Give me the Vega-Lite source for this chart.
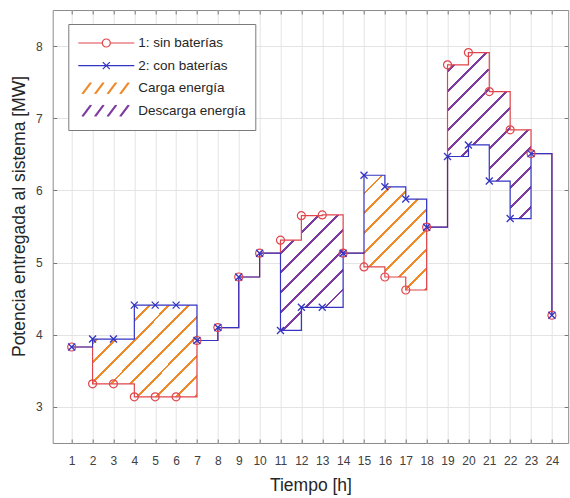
{
  "$schema": "https://vega.github.io/schema/vega-lite/v6.json",
  "width": 515.5,
  "height": 433,
  "autosize": {"type": "none"},
  "padding": {"left": 52.7, "top": 10, "right": 1.8, "bottom": 55},
  "background": "white",
  "config": {
    "view": {"stroke": "#8c8c8c", "strokeWidth": 1},
    "font": "Liberation Sans"
  },
  "data": {
    "values": [
      {"hora": 1, "sin": 3.83, "con": 3.83},
      {"hora": 2, "sin": 3.32, "con": 3.94},
      {"hora": 3, "sin": 3.32, "con": 3.94},
      {"hora": 4, "sin": 3.14, "con": 4.41},
      {"hora": 5, "sin": 3.14, "con": 4.41},
      {"hora": 6, "sin": 3.14, "con": 4.41},
      {"hora": 7, "sin": 3.92, "con": 3.92},
      {"hora": 8, "sin": 4.10, "con": 4.10},
      {"hora": 9, "sin": 4.80, "con": 4.80},
      {"hora": 10, "sin": 5.13, "con": 5.13},
      {"hora": 11, "sin": 5.31, "con": 4.06},
      {"hora": 12, "sin": 5.65, "con": 4.38},
      {"hora": 13, "sin": 5.66, "con": 4.38},
      {"hora": 14, "sin": 5.13, "con": 5.13},
      {"hora": 15, "sin": 4.94, "con": 6.21},
      {"hora": 16, "sin": 4.80, "con": 6.05},
      {"hora": 17, "sin": 4.62, "con": 5.88},
      {"hora": 18, "sin": 5.49, "con": 5.49},
      {"hora": 19, "sin": 7.74, "con": 6.47},
      {"hora": 20, "sin": 7.91, "con": 6.63},
      {"hora": 21, "sin": 7.37, "con": 6.13},
      {"hora": 22, "sin": 6.84, "con": 5.61},
      {"hora": 23, "sin": 6.51, "con": 6.51},
      {"hora": 24, "sin": 4.27, "con": 4.27}
    ]
  },
  "resolve": {"axis": {"x": "independent", "y": "independent"}},
  "layer": [
    {
      "transform": [{"filter": {"field": "hora", "range": [2, 7]}}],
      "mark": {
        "type": "area", "interpolate": "step-after", "opacity": 1, "fillOpacity": 1,
        "fill": {
          "gradient": "linear", "x1": 0, "y1": 0, "x2": 1.064, "y2": 0.9265,
          "stops": [
            {"offset": 0, "color": "#ffffff"}, {"offset": 0.085, "color": "#ffffff"}, {"offset": 0.085, "color": "#ee8a2a"}, {"offset": 0.1, "color": "#ee8a2a"},
            {"offset": 0.1, "color": "#ffffff"}, {"offset": 0.185, "color": "#ffffff"}, {"offset": 0.185, "color": "#ee8a2a"}, {"offset": 0.2, "color": "#ee8a2a"},
            {"offset": 0.2, "color": "#ffffff"}, {"offset": 0.285, "color": "#ffffff"}, {"offset": 0.285, "color": "#ee8a2a"}, {"offset": 0.3, "color": "#ee8a2a"},
            {"offset": 0.3, "color": "#ffffff"}, {"offset": 0.385, "color": "#ffffff"}, {"offset": 0.385, "color": "#ee8a2a"}, {"offset": 0.4, "color": "#ee8a2a"},
            {"offset": 0.4, "color": "#ffffff"}, {"offset": 0.485, "color": "#ffffff"}, {"offset": 0.485, "color": "#ee8a2a"}, {"offset": 0.5, "color": "#ee8a2a"},
            {"offset": 0.5, "color": "#ffffff"}, {"offset": 0.585, "color": "#ffffff"}, {"offset": 0.585, "color": "#ee8a2a"}, {"offset": 0.6, "color": "#ee8a2a"},
            {"offset": 0.6, "color": "#ffffff"}, {"offset": 0.685, "color": "#ffffff"}, {"offset": 0.685, "color": "#ee8a2a"}, {"offset": 0.7, "color": "#ee8a2a"},
            {"offset": 0.7, "color": "#ffffff"}, {"offset": 0.785, "color": "#ffffff"}, {"offset": 0.785, "color": "#ee8a2a"}, {"offset": 0.8, "color": "#ee8a2a"},
            {"offset": 0.8, "color": "#ffffff"}, {"offset": 0.885, "color": "#ffffff"}, {"offset": 0.885, "color": "#ee8a2a"}, {"offset": 0.9, "color": "#ee8a2a"},
            {"offset": 0.9, "color": "#ffffff"}, {"offset": 0.985, "color": "#ffffff"}, {"offset": 0.985, "color": "#ee8a2a"}, {"offset": 1, "color": "#ee8a2a"}
          ]
        }
      },
      "encoding": {
        "x": {
          "field": "hora", "type": "quantitative",
          "scale": {"domain": [0.09, 24.78], "nice": false, "zero": false},
          "axis": {
            "orient": "bottom", "values": [1,2,3,4,5,6,7,8,9,10,11,12,13,14,15,16,17,18,19,20,21,22,23,24],
            "title": "Tiempo [h]", "titleFont": "Liberation Sans", "titleFontSize": 17.5, "titleFontWeight": "normal", "titleColor": "#262626", "titlePadding": 10,
            "labelFont": "Liberation Sans", "labelFontSize": 12, "labelColor": "#404040", "labelPadding": 16, "labelFlush": false, "labelOverlap": false,
            "tickSize": -4, "tickColor": "#777777", "domain": false,
            "grid": true, "gridColor": "#e4e4e4"
          }
        },
        "y": {
          "field": "con", "type": "quantitative",
          "scale": {"domain": [2.5, 8.5], "nice": false, "zero": false},
          "axis": {
            "orient": "left", "values": [3,4,5,6,7,8], "format": "d",
            "title": "Potencia entregada al sistema [MW]", "titleFont": "Liberation Sans", "titleFontSize": 17.5, "titleFontWeight": "normal", "titleColor": "#262626", "titlePadding": 7, "titleY": 206,
            "labelFont": "Liberation Sans", "labelFontSize": 12, "labelColor": "#404040", "labelPadding": 14.5,
            "tickSize": -4, "tickColor": "#777777", "domain": false,
            "grid": true, "gridColor": "#e4e4e4"
          }
        },
        "y2": {"field": "sin"}
      }
    },
    {
      "transform": [{"filter": {"field": "hora", "range": [11, 14]}}],
      "mark": {
        "type": "area", "interpolate": "step-after", "opacity": 1, "fillOpacity": 1,
        "fill": {
          "gradient": "linear", "x1": 0, "y1": 0, "x2": 0.646, "y2": 1.192,
          "stops": [
            {"offset": 0, "color": "#ffffff"}, {"offset": 0.0944, "color": "#ffffff"}, {"offset": 0.0944, "color": "#7d3aa0"}, {"offset": 0.1111, "color": "#7d3aa0"},
            {"offset": 0.1111, "color": "#ffffff"}, {"offset": 0.2055, "color": "#ffffff"}, {"offset": 0.2055, "color": "#7d3aa0"}, {"offset": 0.2222, "color": "#7d3aa0"},
            {"offset": 0.2222, "color": "#ffffff"}, {"offset": 0.3166, "color": "#ffffff"}, {"offset": 0.3166, "color": "#7d3aa0"}, {"offset": 0.3333, "color": "#7d3aa0"},
            {"offset": 0.3333, "color": "#ffffff"}, {"offset": 0.4277, "color": "#ffffff"}, {"offset": 0.4277, "color": "#7d3aa0"}, {"offset": 0.4444, "color": "#7d3aa0"},
            {"offset": 0.4444, "color": "#ffffff"}, {"offset": 0.5389, "color": "#ffffff"}, {"offset": 0.5389, "color": "#7d3aa0"}, {"offset": 0.5556, "color": "#7d3aa0"},
            {"offset": 0.5556, "color": "#ffffff"}, {"offset": 0.65, "color": "#ffffff"}, {"offset": 0.65, "color": "#7d3aa0"}, {"offset": 0.6667, "color": "#7d3aa0"},
            {"offset": 0.6667, "color": "#ffffff"}, {"offset": 0.7611, "color": "#ffffff"}, {"offset": 0.7611, "color": "#7d3aa0"}, {"offset": 0.7778, "color": "#7d3aa0"},
            {"offset": 0.7778, "color": "#ffffff"}, {"offset": 0.8722, "color": "#ffffff"}, {"offset": 0.8722, "color": "#7d3aa0"}, {"offset": 0.8889, "color": "#7d3aa0"},
            {"offset": 0.8889, "color": "#ffffff"}, {"offset": 0.9833, "color": "#ffffff"}, {"offset": 0.9833, "color": "#7d3aa0"}, {"offset": 1, "color": "#7d3aa0"}
          ]
        }
      },
      "encoding": {
        "x": {"field": "hora", "type": "quantitative", "scale": {"domain": [0.09, 24.78], "nice": false, "zero": false}, "axis": null},
        "y": {"field": "con", "type": "quantitative", "scale": {"domain": [2.5, 8.5], "nice": false, "zero": false}, "axis": null},
        "y2": {"field": "sin"}
      }
    },
    {
      "transform": [{"filter": {"field": "hora", "range": [15, 18]}}],
      "mark": {
        "type": "area", "interpolate": "step-after", "opacity": 1, "fillOpacity": 1,
        "fill": {
          "gradient": "linear", "x1": 0, "y1": 0, "x2": 0.65, "y2": 1.191,
          "stops": [
            {"offset": 0, "color": "#ffffff"}, {"offset": 0.0944, "color": "#ffffff"}, {"offset": 0.0944, "color": "#ee8a2a"}, {"offset": 0.1111, "color": "#ee8a2a"},
            {"offset": 0.1111, "color": "#ffffff"}, {"offset": 0.2055, "color": "#ffffff"}, {"offset": 0.2055, "color": "#ee8a2a"}, {"offset": 0.2222, "color": "#ee8a2a"},
            {"offset": 0.2222, "color": "#ffffff"}, {"offset": 0.3166, "color": "#ffffff"}, {"offset": 0.3166, "color": "#ee8a2a"}, {"offset": 0.3333, "color": "#ee8a2a"},
            {"offset": 0.3333, "color": "#ffffff"}, {"offset": 0.4277, "color": "#ffffff"}, {"offset": 0.4277, "color": "#ee8a2a"}, {"offset": 0.4444, "color": "#ee8a2a"},
            {"offset": 0.4444, "color": "#ffffff"}, {"offset": 0.5389, "color": "#ffffff"}, {"offset": 0.5389, "color": "#ee8a2a"}, {"offset": 0.5556, "color": "#ee8a2a"},
            {"offset": 0.5556, "color": "#ffffff"}, {"offset": 0.65, "color": "#ffffff"}, {"offset": 0.65, "color": "#ee8a2a"}, {"offset": 0.6667, "color": "#ee8a2a"},
            {"offset": 0.6667, "color": "#ffffff"}, {"offset": 0.7611, "color": "#ffffff"}, {"offset": 0.7611, "color": "#ee8a2a"}, {"offset": 0.7778, "color": "#ee8a2a"},
            {"offset": 0.7778, "color": "#ffffff"}, {"offset": 0.8722, "color": "#ffffff"}, {"offset": 0.8722, "color": "#ee8a2a"}, {"offset": 0.8889, "color": "#ee8a2a"},
            {"offset": 0.8889, "color": "#ffffff"}, {"offset": 0.9833, "color": "#ffffff"}, {"offset": 0.9833, "color": "#ee8a2a"}, {"offset": 1, "color": "#ee8a2a"}
          ]
        }
      },
      "encoding": {
        "x": {"field": "hora", "type": "quantitative", "scale": {"domain": [0.09, 24.78], "nice": false, "zero": false}, "axis": null},
        "y": {"field": "con", "type": "quantitative", "scale": {"domain": [2.5, 8.5], "nice": false, "zero": false}, "axis": null},
        "y2": {"field": "sin"}
      }
    },
    {
      "transform": [{"filter": {"field": "hora", "range": [19, 23]}}],
      "mark": {
        "type": "area", "interpolate": "step-after", "opacity": 1, "fillOpacity": 1,
        "fill": {
          "gradient": "linear", "x1": 0, "y1": 0, "x2": 0.603, "y2": 1.1995,
          "stops": [
            {"offset": 0, "color": "#ffffff"}, {"offset": 0.068, "color": "#ffffff"}, {"offset": 0.068, "color": "#7d3aa0"}, {"offset": 0.08, "color": "#7d3aa0"},
            {"offset": 0.08, "color": "#ffffff"}, {"offset": 0.148, "color": "#ffffff"}, {"offset": 0.148, "color": "#7d3aa0"}, {"offset": 0.16, "color": "#7d3aa0"},
            {"offset": 0.16, "color": "#ffffff"}, {"offset": 0.228, "color": "#ffffff"}, {"offset": 0.228, "color": "#7d3aa0"}, {"offset": 0.24, "color": "#7d3aa0"},
            {"offset": 0.24, "color": "#ffffff"}, {"offset": 0.308, "color": "#ffffff"}, {"offset": 0.308, "color": "#7d3aa0"}, {"offset": 0.32, "color": "#7d3aa0"},
            {"offset": 0.32, "color": "#ffffff"}, {"offset": 0.388, "color": "#ffffff"}, {"offset": 0.388, "color": "#7d3aa0"}, {"offset": 0.4, "color": "#7d3aa0"},
            {"offset": 0.4, "color": "#ffffff"}, {"offset": 0.468, "color": "#ffffff"}, {"offset": 0.468, "color": "#7d3aa0"}, {"offset": 0.48, "color": "#7d3aa0"},
            {"offset": 0.48, "color": "#ffffff"}, {"offset": 0.548, "color": "#ffffff"}, {"offset": 0.548, "color": "#7d3aa0"}, {"offset": 0.56, "color": "#7d3aa0"},
            {"offset": 0.56, "color": "#ffffff"}, {"offset": 0.628, "color": "#ffffff"}, {"offset": 0.628, "color": "#7d3aa0"}, {"offset": 0.64, "color": "#7d3aa0"},
            {"offset": 0.64, "color": "#ffffff"}, {"offset": 0.708, "color": "#ffffff"}, {"offset": 0.708, "color": "#7d3aa0"}, {"offset": 0.72, "color": "#7d3aa0"},
            {"offset": 0.72, "color": "#ffffff"}, {"offset": 0.788, "color": "#ffffff"}, {"offset": 0.788, "color": "#7d3aa0"}, {"offset": 0.8, "color": "#7d3aa0"},
            {"offset": 0.8, "color": "#ffffff"}, {"offset": 0.868, "color": "#ffffff"}, {"offset": 0.868, "color": "#7d3aa0"}, {"offset": 0.88, "color": "#7d3aa0"},
            {"offset": 0.88, "color": "#ffffff"}, {"offset": 0.948, "color": "#ffffff"}, {"offset": 0.948, "color": "#7d3aa0"}, {"offset": 0.96, "color": "#7d3aa0"},
            {"offset": 0.96, "color": "#ffffff"}, {"offset": 1, "color": "#ffffff"}
          ]
        }
      },
      "encoding": {
        "x": {"field": "hora", "type": "quantitative", "scale": {"domain": [0.09, 24.78], "nice": false, "zero": false}, "axis": null},
        "y": {"field": "con", "type": "quantitative", "scale": {"domain": [2.5, 8.5], "nice": false, "zero": false}, "axis": null},
        "y2": {"field": "sin"}
      }
    },
    {
      "transform": [{"fold": ["sin", "con"], "as": ["serie", "valor"]}],
      "mark": {"type": "line", "interpolate": "step-after", "strokeWidth": 1.2},
      "encoding": {
        "x": {
          "field": "hora", "type": "quantitative",
          "scale": {"domain": [0.09, 24.78], "nice": false, "zero": false},
          "axis": {"orient": "top", "values": [1,2,3,4,5,6,7,8,9,10,11,12,13,14,15,16,17,18,19,20,21,22,23,24], "labels": false, "domain": false, "grid": false, "tickSize": -4, "tickColor": "#777777", "title": null}
        },
        "y": {
          "field": "valor", "type": "quantitative",
          "scale": {"domain": [2.5, 8.5], "nice": false, "zero": false},
          "axis": {"orient": "right", "values": [3,4,5,6,7,8], "labels": false, "domain": false, "grid": false, "tickSize": -4, "tickColor": "#777777", "title": null}
        },
        "stroke": {
          "field": "serie", "type": "nominal",
          "scale": {"domain": ["sin", "con", "carga", "descarga"], "range": ["#e0464c", "#3434c4", "#ee8a2a", "#7d3aa0"]},
          "legend": {
            "orient": "none", "legendX": 15.6, "legendY": 14, "title": null,
            "strokeColor": "#7a7a7a", "fillColor": "white", "padding": 9,
            "labelFont": "Liberation Sans", "labelFontSize": 13.5, "labelColor": "#262626", "labelOffset": 3,
            "labelExpr": "datum.value === 'sin' ? '1: sin baterías' : datum.value === 'con' ? '2: con baterías' : datum.value === 'carga' ? 'Carga energía' : 'Descarga energía'",
            "symbolSize": 3136, "symbolStrokeWidth": 1.2, "clipHeight": 20, "rowPadding": 2.6,
            "encode": {
              "symbols": {
                "update": {
                  "shape": {"signal": "datum.value === 'sin' ? 'M-1,0L-0.143,0M0.143,0L1,0M0.143,0A0.143,0.143,0,1,1,-0.143,0A0.143,0.143,0,1,1,0.143,0' : datum.value === 'con' ? 'M-1,0L1,0M-0.125,-0.125L0.125,0.125M-0.125,0.125L0.125,-0.125' : 'M-0.87,0.2L-0.57,-0.2M-0.83,0.2L-0.53,-0.2M-0.42,0.2L-0.12,-0.2M-0.38,0.2L-0.08,-0.2M0.03,0.2L0.33,-0.2M0.07,0.2L0.37,-0.2M0.48,0.2L0.78,-0.2M0.52,0.2L0.82,-0.2'"},
                  "fill": {"value": "transparent"},
                  "size": {"value": 3136}
                }
              }
            }
          }
        }
      }
    },
    {
      "mark": {"type": "point", "shape": "circle", "filled": false, "stroke": "#e0464c", "strokeWidth": 1.2, "size": 64, "opacity": 1},
      "encoding": {
        "x": {"field": "hora", "type": "quantitative", "scale": {"domain": [0.09, 24.78], "nice": false, "zero": false}, "axis": null},
        "y": {"field": "sin", "type": "quantitative", "scale": {"domain": [2.5, 8.5], "nice": false, "zero": false}, "axis": null}
      }
    },
    {
      "mark": {"type": "point", "shape": "M-1,-1L1,1M-1,1L1,-1", "filled": false, "stroke": "#3434c4", "strokeWidth": 1.3, "size": 49, "opacity": 1},
      "encoding": {
        "x": {"field": "hora", "type": "quantitative", "scale": {"domain": [0.09, 24.78], "nice": false, "zero": false}, "axis": null},
        "y": {"field": "con", "type": "quantitative", "scale": {"domain": [2.5, 8.5], "nice": false, "zero": false}, "axis": null}
      }
    }
  ]
}
